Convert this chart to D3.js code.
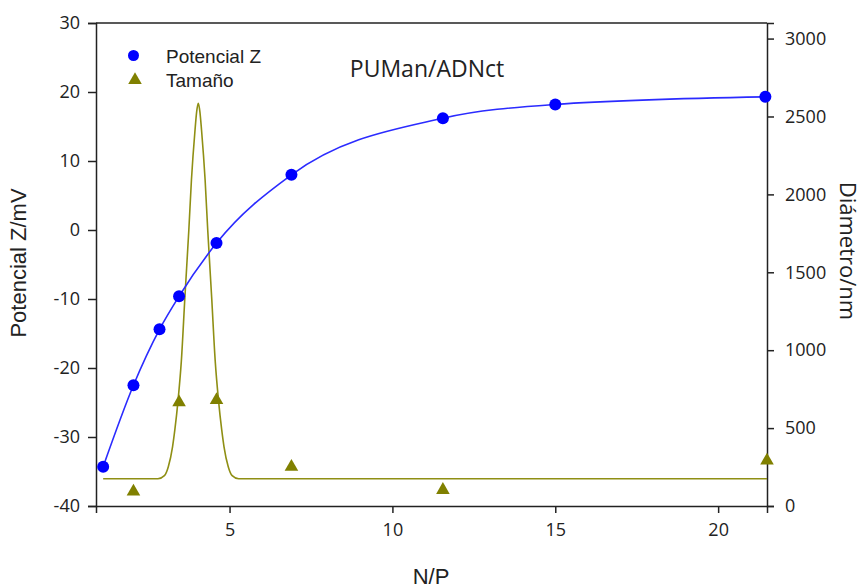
<!DOCTYPE html>
<html lang="es">
<head>
    <meta charset="UTF-8">
    <title>PUMan/ADNct</title>
    <script src="https://cdnjs.cloudflare.com/ajax/libs/d3/7.8.5/d3.min.js"></script>
    <style type="text/css">
        body { margin: 0; background: #fff; }
        .axis path, .axis line { stroke: #222; stroke-width: 1.5; }
        .axis text { font-family: "Open Sans", sans-serif; font-size: 18px; fill: #222; }
    </style>
</head>
<body>
<div class="container"></div>
</body>
<script>
    // N/P ratios
    const np = [1.12, 2.05, 2.85, 3.45, 4.6, 6.9, 11.55, 15, 21.45];
    // Potencial Z (mV)
    const zeta = [-34.3, -22.5, -14.4, -9.6, -1.9, 8.0, 16.2, 18.2, 19.3];

    // Tamaño (diameter, nm)
    const npSize = [2.05, 3.45, 4.6, 6.9, 11.55, 21.5];
    const diam = [92, 665, 680, 252, 103, 292];

    // fitted size curve
    const fitX = [1.12, 2.8, 3.0, 3.12, 3.25, 3.32, 3.42, 3.52, 3.63, 3.75, 3.83, 3.94, 3.99, 4.04,
        4.09, 4.14, 4.25, 4.33, 4.45, 4.56, 4.66, 4.76, 4.83, 4.96, 5.08, 5.28, 21.5];
    const fitY = [175, 175, 195, 252, 380, 488, 680, 930, 1343, 1771, 2092, 2413, 2530, 2585,
        2530, 2413, 2092, 1771, 1343, 930, 680, 488, 380, 252, 195, 175, 175];

    const xTicks = [5, 10, 15, 20];
    const yLeftTicks = [-40, -30, -20, -10, 0, 10, 20, 30];
    const yRightTicks = [0, 500, 1000, 1500, 2000, 2500, 3000];

    const mLeft = 96, mRight = 767, mTop = 23, mBottom = 506;

    const svg = d3.select('.container')
        .append('svg')
        .attr('width', 864)
        .attr('height', 588);

    const x = d3.scaleLinear().domain([0.9, 21.5]).range([mLeft, mRight]);
    const yL = d3.scaleLinear().domain([-40, 30]).range([mBottom, mTop]);
    const yR = d3.scaleLinear().domain([0, 3100]).range([mBottom, mTop]);

    // frame top line
    svg.append('line')
        .attr('x1', mLeft).attr('x2', mRight)
        .attr('y1', mTop).attr('y2', mTop)
        .attr('stroke', '#222').attr('stroke-width', 1.5);

    svg.append('g')
        .attr('class', 'axis')
        .attr('transform', 'translate(0,' + mBottom + ')')
        .call(d3.axisBottom(x).tickValues(xTicks).tickSizeOuter(0).tickSize(7).tickPadding(10));

    svg.append('g')
        .attr('class', 'axis')
        .attr('transform', 'translate(' + mLeft + ',0)')
        .call(d3.axisLeft(yL).tickValues(yLeftTicks).tickSizeOuter(0).tickSize(8).tickPadding(8)
            .tickFormat(d => d < 0 ? '-' + Math.abs(d) : d));

    svg.append('g')
        .attr('class', 'axis')
        .attr('transform', 'translate(' + mRight + ',0)')
        .call(d3.axisRight(yR).tickValues(yRightTicks).tickSizeOuter(0).tickSize(7).tickPadding(11)
            .tickFormat(d3.format('d')));

    // size fit curve
    const fitLine = d3.line()
        .x((d, i) => x(fitX[i]))
        .y(d => yR(d))
        .curve(d3.curveMonotoneX);

    svg.append('path')
        .attr('fill', 'none')
        .attr('stroke', '#8f8f14')
        .attr('stroke-width', 1.6)
        .attr('d', fitLine(fitY));

    // zeta curve
    const zetaLine = d3.line()
        .x((d, i) => x(np[i]))
        .y(d => yL(d))
        .curve(d3.curveMonotoneX);

    svg.append('path')
        .attr('fill', 'none')
        .attr('stroke', '#2b2bff')
        .attr('stroke-width', 1.6)
        .attr('d', zetaLine(zeta));

    svg.selectAll('circle.zeta')
        .data(zeta)
        .enter()
        .append('circle')
        .attr('class', 'zeta')
        .attr('fill', '#0000ff')
        .attr('cx', (d, i) => x(np[i]))
        .attr('cy', d => yL(d))
        .attr('r', 6);

    const tri = d3.symbol().type(d3.symbolTriangle).size(80);

    svg.selectAll('path.size')
        .data(diam)
        .enter()
        .append('path')
        .attr('class', 'size')
        .attr('fill', '#808000')
        .attr('d', tri)
        .attr('transform', (d, i) => 'translate(' + x(npSize[i]) + ',' + yR(d) + ')');

    // legend
    svg.append('circle')
        .attr('cx', 133.5).attr('cy', 55.5).attr('r', 5.5)
        .attr('fill', '#0000ff');
    svg.append('path')
        .attr('d', tri)
        .attr('fill', '#808000')
        .attr('transform', 'translate(135,80)');

    svg.append('text')
        .text('Potencial Z')
        .attr('x', 166).attr('y', 62.5)
        .attr('font-family', '"Liberation Sans", Arial, sans-serif')
        .attr('font-size', 19)
        .attr('fill', '#222');

    svg.append('text')
        .text('Tamaño')
        .attr('x', 166).attr('y', 86.5)
        .attr('font-family', '"Liberation Sans", Arial, sans-serif')
        .attr('font-size', 19)
        .attr('fill', '#222');

    // title
    svg.append('text')
        .text('PUMan/ADNct')
        .attr('x', 427).attr('y', 77)
        .attr('text-anchor', 'middle')
        .attr('font-family', '"Open Sans", sans-serif')
        .attr('font-size', 23)
        .attr('fill', '#222');

    // axis titles
    svg.append('text')
        .text('N/P')
        .attr('x', 431).attr('y', 584)
        .attr('text-anchor', 'middle')
        .attr('font-family', '"Liberation Sans", Arial, sans-serif')
        .attr('font-size', 22)
        .attr('fill', '#222');

    svg.append('text')
        .text('Potencial Z/mV')
        .attr('transform', 'translate(26,263) rotate(-90)')
        .attr('text-anchor', 'middle')
        .attr('font-family', '"Liberation Sans", Arial, sans-serif')
        .attr('font-size', 22)
        .attr('fill', '#222');

    svg.append('text')
        .text('Diámetro/nm')
        .attr('transform', 'translate(840,251) rotate(90)')
        .attr('text-anchor', 'middle')
        .attr('font-family', '"Open Sans", sans-serif')
        .attr('font-size', 22)
        .attr('fill', '#222');
</script>
</html>
